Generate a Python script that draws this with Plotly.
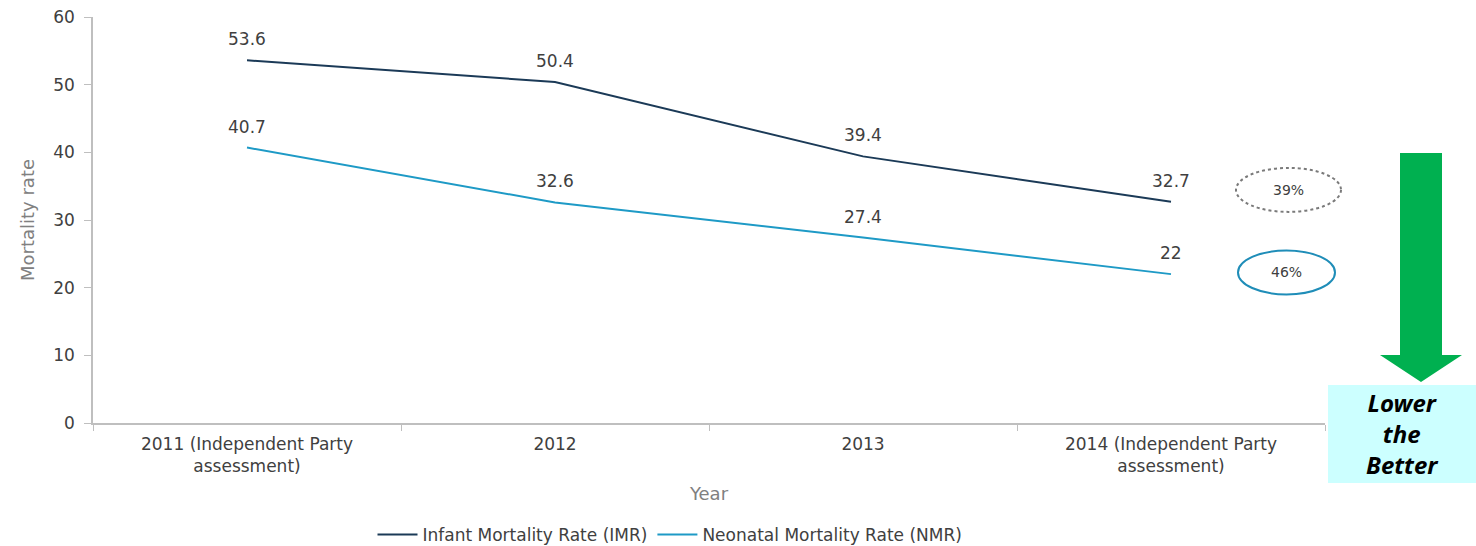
import plotly.graph_objects as go

categories = ["2011 (Independent Party<br>assessment)", "2012", "2013", "2014 (Independent Party<br>assessment)"]
imr = [53.6, 50.4, 39.4, 32.7]
nmr = [40.7, 32.6, 27.4, 22]
imr_name = "Infant Mortality Rate (IMR)"
nmr_name = "Neonatal Mortality Rate (NMR)"
reductions = ["39%", "46%"]

IMR_C = "#1B3A57"
NMR_C = "#1E9AC6"
TXT = "#404040"
FONT = "DejaVu Sans, Liberation Sans, Arial, sans-serif"

L, R_EDGE, T, B0 = 93, 1325, 17, 423
W, H = 1476, 546
pw = R_EDGE - L
ph = B0 - T

def px(x):
    return (x - L) / pw

def py(y):
    return (B0 - y) / ph

fig = go.Figure()
fig.add_trace(go.Scatter(x=categories, y=imr, name=imr_name, mode="lines",
                         line=dict(color=IMR_C, width=2)))
fig.add_trace(go.Scatter(x=categories, y=nmr, name=nmr_name, mode="lines",
                         line=dict(color=NMR_C, width=2)))

annotations = []
for series in (imr, nmr):
    for i, v in enumerate(series):
        annotations.append(dict(x=i, y=v, xref="x", yref="y", text=f"{v:g}", showarrow=False,
                                xanchor="center", yanchor="middle",
                                yshift=21, font=dict(size=17, color=TXT, family=FONT)))

shapes = []
# ellipses
shapes.append(dict(type="circle", xref="paper", yref="y", x0=px(1236), x1=px(1341), y0=31.2, y1=37.7,
                   line=dict(color="#7a7a7a", width=2, dash="dot")))
shapes.append(dict(type="circle", xref="paper", yref="y", x0=px(1238), x1=px(1335), y0=19.0, y1=25.5,
                   line=dict(color="#1F8DB8", width=2)))
# cyan box
shapes.append(dict(type="rect", xref="paper", yref="paper", x0=px(1328), x1=px(1476), y0=py(483), y1=py(385),
                   fillcolor="#CCFFFF", line=dict(width=0), layer="below"))
# green arrow
pts = [(1400, 153), (1442, 153), (1442, 355), (1462, 355), (1421, 382), (1380, 355), (1400, 355)]
path = "M " + " L ".join(f"{px(x):.5f},{py(y):.5f}" for x, y in pts) + " Z"
shapes.append(dict(type="path", xref="paper", yref="paper", path=path,
                   fillcolor="#00B050", line=dict(width=0)))

annotations += [
    dict(xref="paper", yref="y", x=px(1288), y=34.4, text=reductions[0], showarrow=False,
         xanchor="center", yanchor="middle",
         font=dict(size=14, color=TXT, family=FONT)),
    dict(xref="paper", yref="y", x=px(1286), y=22.3, text=reductions[1], showarrow=False,
         xanchor="center", yanchor="middle",
         font=dict(size=14, color=TXT, family=FONT)),
    dict(xref="paper", yref="paper", x=px(1402), y=py(434), text="<b><i>Lower<br>the<br>Better</i></b>",
         showarrow=False, align="center", xanchor="center", yanchor="middle",
         font=dict(size=24, color="#000000", family="Noto Sans, sans-serif")),
]

fig.update_layout(
    width=W, height=H,
    margin=dict(l=L, r=W - R_EDGE, t=T, b=H - B0),
    paper_bgcolor="white", plot_bgcolor="white",
    font=dict(family=FONT, color=TXT, size=17),
    showlegend=True,
    legend=dict(orientation="h", xref="container", yref="container",
                x=670 / W, xanchor="center", y=(H - 535) / H, yanchor="middle",
                font=dict(size=17, color=TXT, family=FONT), itemwidth=40,
                bgcolor="rgba(0,0,0,0)"),
    shapes=shapes,
    annotations=annotations,
)
fig.update_xaxes(type="category", range=[-0.5, 3.5], showline=True, linecolor="#BFBFBF", linewidth=1.5,
                 ticks="outside", tickson="boundaries", ticklen=6, tickcolor="#BFBFBF",
                 showgrid=False, zeroline=False, automargin=False, ticklabelstandoff=5,
                 tickfont=dict(size=17, color=TXT, family=FONT),
                 title=dict(text="Year", font=dict(size=18, color="#808080", family=FONT), standoff=12))
fig.update_yaxes(range=[0, 60], dtick=10, showline=True, linecolor="#BFBFBF", linewidth=1.5,
                 ticks="outside", ticklen=7, tickcolor="#BFBFBF", showgrid=False, zeroline=False,
                 automargin=False, ticklabelstandoff=6,
                 tickfont=dict(size=17, color=TXT, family=FONT),
                 title=dict(text="Mortality rate", font=dict(size=18, color="#808080", family=FONT), standoff=14))

fig.write_html("out.html", config={"displayModeBar": False},
               post_script="document.body.style.margin='0';")
